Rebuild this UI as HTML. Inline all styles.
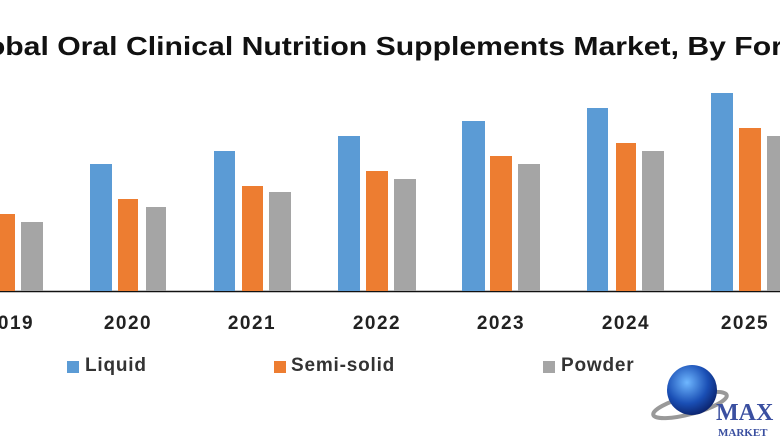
<!DOCTYPE html>
<html><head><style>
html,body{margin:0;width:780px;height:440px;overflow:hidden}
body{background:#fff;position:relative;font-family:"Liberation Sans",sans-serif}
#w{position:absolute;left:0;top:0;width:780px;height:440px;overflow:hidden}
.t{position:absolute;top:31px;left:-45px;white-space:nowrap;font-weight:bold;font-size:26px;color:#111;transform:scaleX(1.16);transform-origin:0 0}
.l{position:absolute;top:313px;font-size:19px;font-weight:bold;color:#222;width:70px;text-align:center;letter-spacing:1.5px}
.lg{position:absolute;top:355px;font-size:19px;font-weight:bold;color:#333;letter-spacing:0.8px}
.sq{position:absolute;top:361px;width:12px;height:12px}
</style></head><body><div id="w">
<div class="t">Global Oral Clinical Nutrition Supplements Market, By Form</div>
<svg width="780" height="440" style="position:absolute;left:0;top:0">
<line x1="0" y1="291.5" x2="780" y2="291.5" stroke="#111" stroke-width="1.5"/>
<rect x="0" y="214" width="15" height="77" fill="#ed7d31"/>
<rect x="21" y="222" width="22" height="69" fill="#a5a5a5"/>
<rect x="90" y="164" width="22" height="127" fill="#5b9bd5"/>
<rect x="118" y="199" width="20" height="92" fill="#ed7d31"/>
<rect x="146" y="207" width="20" height="84" fill="#a5a5a5"/>
<rect x="214" y="151" width="21" height="140" fill="#5b9bd5"/>
<rect x="242" y="186" width="21" height="105" fill="#ed7d31"/>
<rect x="269" y="192" width="22" height="99" fill="#a5a5a5"/>
<rect x="338" y="136" width="22" height="155" fill="#5b9bd5"/>
<rect x="366" y="171" width="22" height="120" fill="#ed7d31"/>
<rect x="394" y="179" width="22" height="112" fill="#a5a5a5"/>
<rect x="462" y="121" width="23" height="170" fill="#5b9bd5"/>
<rect x="490" y="156" width="22" height="135" fill="#ed7d31"/>
<rect x="518" y="164" width="22" height="127" fill="#a5a5a5"/>
<rect x="587" y="108" width="21" height="183" fill="#5b9bd5"/>
<rect x="616" y="143" width="20" height="148" fill="#ed7d31"/>
<rect x="642" y="151" width="22" height="140" fill="#a5a5a5"/>
<rect x="711" y="93" width="22" height="198" fill="#5b9bd5"/>
<rect x="739" y="128" width="22" height="163" fill="#ed7d31"/>
<rect x="767" y="136" width="13" height="155" fill="#a5a5a5"/>
<defs><radialGradient id="g" cx="0.4" cy="0.35" r="0.7"><stop offset="0" stop-color="#6fb7ff"/><stop offset="0.6" stop-color="#1a4fb5"/><stop offset="1" stop-color="#0a1f66"/></radialGradient></defs>
<ellipse cx="690" cy="405" rx="38" ry="9" fill="none" stroke="#999" stroke-width="4" transform="rotate(-15 690 405)"/>
<circle cx="692" cy="390" r="25" fill="url(#g)"/>
<text x="716" y="420" font-family="Liberation Serif,serif" font-size="24" font-weight="bold" fill="#3a4fa0">MAX</text>
<text x="718" y="436" font-family="Liberation Serif,serif" font-size="11" font-weight="bold" fill="#3a4fa0">MARKET</text>
</svg>
<div class="l" style="left:-25px">2019</div>
<div class="l" style="left:93px">2020</div>
<div class="l" style="left:217px">2021</div>
<div class="l" style="left:342px">2022</div>
<div class="l" style="left:466px">2023</div>
<div class="l" style="left:591px">2024</div>
<div class="l" style="left:710px">2025</div>
<div class="sq" style="left:67px;background:#5b9bd5"></div><div class="lg" style="left:85px">Liquid</div>
<div class="sq" style="left:274px;background:#ed7d31"></div><div class="lg" style="left:291px">Semi-solid</div>
<div class="sq" style="left:543px;background:#a5a5a5"></div><div class="lg" style="left:561px">Powder</div>
</div></body></html>
